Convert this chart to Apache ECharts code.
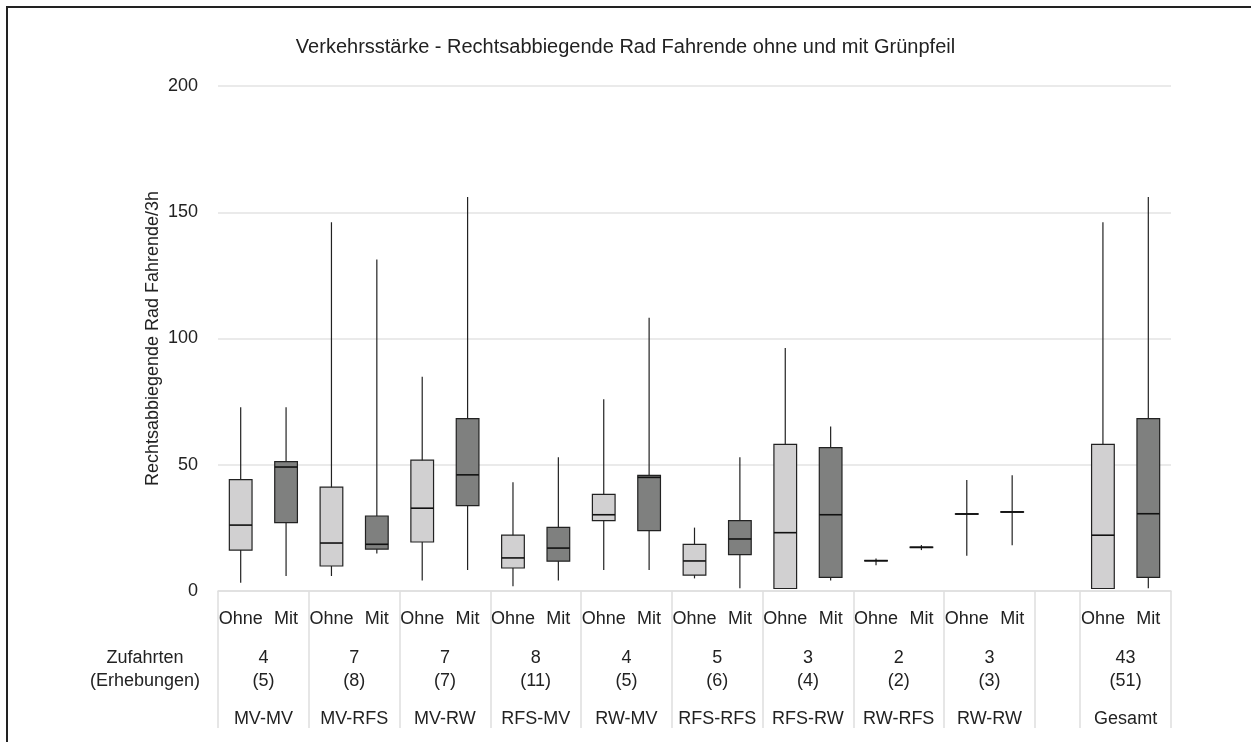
<!DOCTYPE html>
<html>
<head>
<meta charset="utf-8">
<script src="https://cdn.jsdelivr.net/npm/echarts@6/dist/echarts.min.js"></script>
<style>
  html, body { margin: 0; padding: 0; background: #fff; }
  #chart { width: 1251px; height: 742px; }
</style>
</head>
<body>
<div id="chart"></div>
<script>
// Gruppen (Knotenpunkt-Kombinationen)
const groups = ['MV-MV', 'MV-RFS', 'MV-RW', 'RFS-MV', 'RW-MV', 'RFS-RFS', 'RFS-RW', 'RW-RFS', 'RW-RW', 'Gesamt'];
const zufahrten = [4, 7, 7, 8, 4, 5, 3, 2, 3, 43];
const erhebungen = [5, 8, 7, 11, 5, 6, 4, 2, 3, 51];

// [min, Q1, Median, Q3, max]
const ohne = [
  [3.3, 16.2, 26.1, 44.1, 72.8],
  [5.9, 9.9, 19.0, 41.1, 146],
  [4.2, 19.4, 32.8, 51.8, 84.9],
  [1.9, 9.1, 13.1, 22.1, 43.1],
  [8.3, 27.9, 30.2, 38.3, 75.9],
  [5.0, 6.3, 11.9, 18.5, 25.1],
  [0.9, 1.0, 23.1, 58.1, 96.2],
  [10.2, 11.9, 12.0, 12.1, 12.9],
  [14.0, 30.4, 30.5, 30.6, 44.0],
  [0.9, 1.0, 22.1, 58.1, 146]
];
const mit = [
  [5.9, 27.1, 49.1, 51.2, 72.8],
  [14.9, 16.6, 18.5, 29.7, 131.3],
  [8.3, 33.8, 46.0, 68.3, 156],
  [4.2, 11.8, 17.0, 25.2, 53.0],
  [8.3, 23.9, 45.0, 45.8, 108.2],
  [1.1, 14.4, 20.6, 27.9, 53.0],
  [4.2, 5.4, 30.2, 56.8, 65.1],
  [16.2, 17.2, 17.3, 17.4, 18.2],
  [18.1, 31.2, 31.3, 31.4, 45.8],
  [1.1, 5.4, 30.6, 68.3, 156]
];

const yTicks = [0, 50, 100, 150, 200];

const FONT = "'Liberation Sans Narrow', 'Liberation Sans', Arial, sans-serif";

// x slots: 2 per group, one empty slot before Gesamt
const slotOf = g => (g < 9 ? g * 2 : 19);
const slots = [];
for (let i = 0; i < 21; i++) slots.push(i === 18 ? '' : (i % 2 === (i > 18 ? 1 : 0) ? 'Ohne' : 'Mit'));

const boxData = [];
groups.forEach((g, i) => {
  boxData.push([slotOf(i)].concat(ohne[i]).concat([0]));
  boxData.push([slotOf(i) + 1].concat(mit[i]).concat([1]));
});

const fills = ['#d1d0d1', '#7f807f'];

function renderBox(params, api) {
  const x = api.value(0);
  const w = api.size([1, 0])[0] * 0.5;
  const pMin = api.coord([x, api.value(1)]);
  const pQ1 = api.coord([x, api.value(2)]);
  const pMed = api.coord([x, api.value(3)]);
  const pQ3 = api.coord([x, api.value(4)]);
  const pMax = api.coord([x, api.value(5)]);
  const cx = pMed[0];
  const fill = fills[api.value(6)];
  return {
    type: 'group',
    children: [
      { type: 'line', shape: { x1: cx, y1: pMax[1], x2: cx, y2: pMin[1] },
        style: { stroke: '#222', lineWidth: 1.2 } },
      { type: 'rect', shape: { x: cx - w / 2, y: pQ3[1], width: w, height: Math.max(pQ1[1] - pQ3[1], 0.5) },
        style: { fill: fill, stroke: '#222', lineWidth: 1.2 } },
      { type: 'line', shape: { x1: cx - w / 2, y1: pMed[1], x2: cx + w / 2, y2: pMed[1] },
        style: { stroke: '#111', lineWidth: 1.6 } }
    ]
  };
}

const labelPos = groups.map((g, i) => slotOf(i) + 0.5);

const chart = echarts.init(document.getElementById('chart'));
chart.setOption({
  backgroundColor: '#fff',
  animation: false,
  title: {
    text: 'Verkehrsstärke - Rechtsabbiegende Rad Fahrende ohne und mit Grünpfeil',
    left: 'center',
    top: 32,
    textStyle: { fontFamily: FONT, fontSize: 20, fontWeight: 'normal', color: '#222' }
  },
  grid: { left: 218, right: 80, top: 86, bottom: 151 },
  xAxis: [
    {
      type: 'category',
      data: slots,
      boundaryGap: true,
      axisLine: { lineStyle: { color: '#dedede', width: 1.5 } },
      axisTick: {
        show: true,
        length: 137,
        interval: function (index) { return (index % 2 === 0 && index <= 18) || index === 19; },
        lineStyle: { color: '#dedede', width: 1.5 }
      },
      axisLabel: {
        interval: 0, margin: 19,
        fontFamily: FONT, fontSize: 18, color: '#222'
      },
      splitLine: { show: false }
    },
    {
      type: 'value',
      min: -0.5,
      max: 20.5,
      position: 'bottom',
      axisLine: { show: false },
      axisTick: { show: false },
      splitLine: { show: false },
      axisLabel: {
        customValues: labelPos,
        margin: 56,
        fontFamily: FONT,
        formatter: function (v) {
          const i = labelPos.indexOf(v);
          if (i < 0) return '';
          return '{n|' + zufahrten[i] + '}\n{n|(' + erhebungen[i] + ')}\n{g|' + groups[i] + '}';
        },
        rich: {
          n: { fontFamily: FONT, fontSize: 18, color: '#222', lineHeight: 23 },
          g: { fontFamily: FONT, fontSize: 18, color: '#222', lineHeight: 53 }
        }
      }
    }
  ],
  yAxis: {
    type: 'value',
    min: yTicks[0],
    max: yTicks[yTicks.length - 1],
    interval: 50,
    name: 'Rechtsabbiegende Rad Fahrende/3h',
    nameLocation: 'middle',
    nameGap: 56,
    nameMoveOverlap: false,
    nameTextStyle: { fontFamily: FONT, fontSize: 18, color: '#222' },
    axisLine: { show: false },
    axisTick: { show: false },
    axisLabel: { margin: 20, fontFamily: FONT, fontSize: 18, color: '#222' },
    splitLine: { lineStyle: { color: '#e3e3e3', width: 1.5 } }
  },
  graphic: [
    {
      type: 'rect',
      shape: { x: 7, y: 7, width: 1260, height: 800 },
      style: { fill: 'none', stroke: '#222', lineWidth: 2 },
      silent: true
    },
    {
      type: 'text',
      x: 145,
      y: 647,
      style: {
        text: 'Zufahrten\n(Erhebungen)',
        align: 'center',
        fontFamily: FONT,
        fontSize: 18,
        lineHeight: 23,
        fill: '#222'
      }
    }
  ],
  series: [
    {
      type: 'custom',
      name: 'Verkehrsstärke',
      xAxisIndex: 0,
      renderItem: renderBox,
      encode: { x: 0, y: [1, 2, 3, 4, 5] },
      data: boxData,
      z: 5
    }
  ]
});
</script>
</body>
</html>
